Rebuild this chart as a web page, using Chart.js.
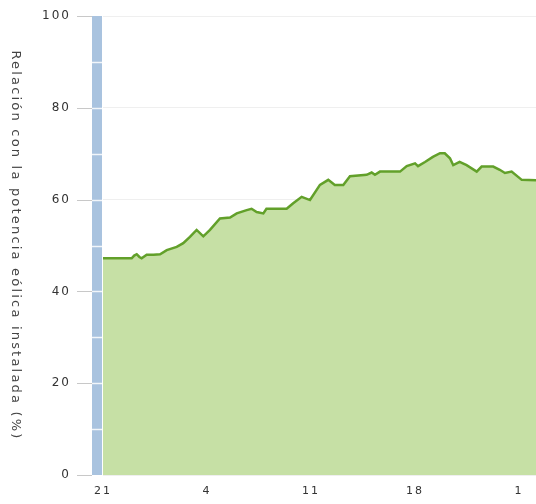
<!DOCTYPE html>
<html>
<head>
<meta charset="utf-8">
<script src="https://cdn.jsdelivr.net/npm/chart.js@4/dist/chart.umd.min.js"></script>
<style>
html,body{margin:0;padding:0;background:#fff;}
#wrap{width:536px;height:504px;position:relative;}
</style>
</head>
<body>
<div id="wrap"><canvas id="c" width="536" height="504"></canvas></div>
<script>
const yTitle = 'Relación con la potencia eólica instalada (%)';
const tickDays = [0, 7, 14, 21, 28];
const tickLabels = ['21', '4', '11', '18', '1'];
const days = [0, 1.93, 2.1, 2.27, 2.45, 2.6, 2.94, 3.4, 3.84, 4.29, 4.96, 5.4, 5.85, 6.3, 6.75, 7.2, 7.87, 8.55, 9.0, 9.67, 10.0, 10.34, 10.79, 11.0, 12.36, 12.8, 13.37, 13.93, 14.6, 15.16, 15.6, 16.17, 16.62, 17.74, 18.08, 18.3, 18.64, 19.99, 20.44, 21.0, 21.2, 21.67, 22.2, 22.68, 23.0, 23.35, 23.57, 24.0, 24.47, 25.15, 25.48, 26.26, 26.7, 27.05, 27.5, 28.18, 29.14];
const values = [47.2, 47.2, 47.8, 48.1, 47.5, 47.2, 48.0, 48.0, 48.1, 49.0, 49.7, 50.5, 51.9, 53.4, 52.0, 53.4, 55.9, 56.1, 57.0, 57.7, 58.0, 57.3, 57.0, 58.0, 58.0, 59.2, 60.6, 59.9, 63.2, 64.3, 63.2, 63.2, 65.1, 65.4, 65.9, 65.4, 66.1, 66.1, 67.3, 67.9, 67.3, 68.2, 69.3, 70.1, 70.1, 69.0, 67.5, 68.2, 67.5, 66.1, 67.2, 67.2, 66.5, 65.8, 66.1, 64.3, 64.2];

const points = days.map((d, i) => ({x: d, y: values[i]}));

const decor = {
  id: 'decor',
  beforeInit(chart) { chart.ctx.letterSpacing = '2px'; },
  beforeDraw(chart) { chart.ctx.letterSpacing = '2px'; },
  beforeDatasetsDraw(chart) {
    const {ctx, chartArea: a, scales: {y}} = chart;
    ctx.save();
    ctx.fillStyle = '#a9c3df';
    ctx.fillRect(a.left - 11, a.top, 10, a.bottom - a.top);
    ctx.strokeStyle = 'rgba(255,255,255,0.85)';
    ctx.lineWidth = 1.5;
    for (let v = 10; v < 100; v += 10) {
      const py = Math.round(y.getPixelForValue(v)) + 0.5;
      ctx.beginPath(); ctx.moveTo(a.left - 11, py); ctx.lineTo(a.left - 1, py); ctx.stroke();
    }
    ctx.strokeStyle = '#c8c8c8';
    ctx.lineWidth = 1;
    for (let v = 0; v <= 100; v += 20) {
      const py = Math.round(y.getPixelForValue(v)) + 0.5;
      ctx.beginPath(); ctx.moveTo(a.left - 26, py); ctx.lineTo(a.left - 11, py); ctx.stroke();
    }
    ctx.restore();
  },
  afterDraw(chart) {
    const {ctx, chartArea: a} = chart;
    ctx.save();
    ctx.translate(15, (a.top + a.bottom) / 2);
    ctx.rotate(Math.PI / 2);
    ctx.fillStyle = '#444';
    ctx.font = '13px "DejaVu Sans"';
    ctx.letterSpacing = '2.2px';
    ctx.textAlign = 'center';
    ctx.textBaseline = 'middle';
    ctx.fillText(yTitle, 0, 0);
    ctx.restore();
  }
};

new Chart(document.getElementById('c'), {
  type: 'line',
  data: {
    datasets: [{
      data: points,
      borderColor: '#62a02a',
      borderWidth: 2.5,
      backgroundColor: '#c6e0a5',
      fill: 'origin',
      pointRadius: 0,
      tension: 0
    }]
  },
  options: {
    responsive: false,
    animation: false,
    layout: {padding: {top: 16, right: 0, bottom: 0, left: 0}},
    plugins: {legend: {display: false}, tooltip: {enabled: false}},
    scales: {
      x: {
        type: 'linear',
        min: 0,
        max: 29.14,
        afterFit: (s) => { s.height = 29; s.paddingLeft = 0; s.paddingRight = 0; },
        afterBuildTicks: (s) => { s.ticks = tickDays.map(v => ({value: v})); },
        ticks: {
          autoSkip: false,
          maxRotation: 0,
          padding: 10,
          color: '#333',
          font: {family: 'DejaVu Sans', size: 11},
          callback: (v) => tickLabels[tickDays.indexOf(v)]
        },
        grid: {display: false, drawTicks: false},
        border: {display: false}
      },
      y: {
        min: 0,
        max: 100,
        afterFit: (s) => { s.width = 103; s.paddingTop = 0; s.paddingBottom = 0; },
        afterBuildTicks: (s) => { s.ticks = [0,20,40,60,80,100].map(v => ({value: v})); },
        ticks: {
          padding: 32,
          color: '#333',
          font: {family: 'DejaVu Sans', size: 12}
        },
        grid: {color: '#efefef', drawTicks: false},
        border: {display: false}
      }
    }
  },
  plugins: [decor]
});
</script>
</body>
</html>
